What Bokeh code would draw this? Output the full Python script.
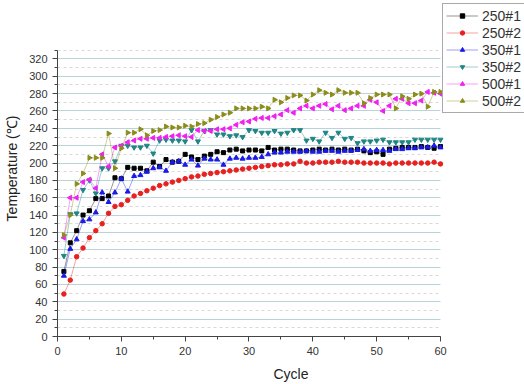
import math
from bokeh.plotting import figure
from bokeh.models import (Range1d, SingleIntervalTicker, Legend, LegendItem)
from bokeh.embed import file_html
from bokeh.resources import INLINE

cycles = list(range(1, 61))
series_names = ["250#1", "250#2", "350#1", "350#2", "500#1", "500#2"]

s250_1 = [75, 108, 122, 140, 145, 159, 159, 162, 183, 182, 195, 194, 194, 191, 201, 196, 204, 201, 202, 210,
          207, 204, 208, 210, 213, 212, 215, 216, 214, 215, 215, 214, 218, 215, 216, 216, 215, 214, 214, 215,
          216, 215, 216, 215, 216, 215, 216, 214, 212, 213, 210, 216, 217, 218, 218, 218, 219, 218, 217, 219]
s250_2 = [49, 65, 92, 102, 114, 122, 130, 142, 150, 152, 157, 162, 165, 168, 171, 174, 176, 178, 180, 182,
          184, 185, 187, 188, 189, 190, 191, 192, 193, 194, 195, 196, 197, 198, 198, 199, 199, 202, 200, 200,
          201, 201, 201, 202, 201, 201, 201, 200, 200, 200, 200, 199, 200, 200, 200, 200, 200, 200, 201, 199]
s350_1 = [70, 101, 112, 133, 135, 143, 166, 155, 166, 182, 167, 185, 186, 190, 194, 195, 191, 201, 202, 198,
          204, 197, 205, 204, 204, 198, 205, 206, 205, 206, 206, 207, 210, 212, 212, 213, 213, 213, 214, 213,
          213, 214, 214, 213, 214, 214, 215, 216, 214, 215, 215, 214, 216, 216, 217, 217, 218, 218, 220, 218]
s350_2 = [93, 141, 142, 169, 180, 165, 194, 194, 202, 220, 220, 218, 218, 220, 211, 226, 227, 226, 226, 225,
          238, 225, 237, 238, 233, 233, 231, 232, 230, 238, 237, 235, 235, 237, 234, 235, 238, 238, 226, 228,
          225, 235, 229, 235, 228, 229, 223, 225, 225, 226, 227, 224, 224, 224, 224, 227, 227, 227, 227, 227]
s500_1 = [114, 160, 160, 178, 181, 171, 210, 196, 218, 220, 224, 226, 228, 228, 229, 229, 230, 231, 232, 231,
          230, 238, 237, 237, 239, 239, 240, 244, 247, 248, 251, 252, 252, 254, 256, 261, 258, 263, 266, 263,
          266, 268, 262, 266, 261, 263, 266, 266, 273, 270, 260, 266, 274, 274, 269, 269, 272, 282, 281, 280]
s500_2 = [117, 140, 176, 188, 206, 206, 206, 234, 194, 217, 235, 235, 239, 232, 237, 238, 242, 241, 241, 243,
          242, 245, 246, 250, 253, 256, 258, 263, 263, 263, 263, 265, 263, 273, 270, 275, 278, 278, 272, 279,
          284, 281, 279, 284, 281, 281, 281, 269, 275, 279, 279, 279, 263, 277, 274, 279, 280, 265, 282, 282]

all_series = [s250_1, s250_2, s350_1, s350_2, s500_1, s500_2]
colors = ["#000000", "#e82020", "#1a1ae8", "#1f8585", "#f020f0", "#8c8c1a"]
markers = ["square", "circle", "triangle", "inverted_triangle", "triangle", "triangle"]
angles = [0, 0, 0, 0, math.pi / 2, -math.pi / 2]
sizes = [4, 4.5, 5, 5, 5, 5]

FONT = "Liberation Sans"
X_AXIS = (0, 60)
Y_AXIS = (0, 330)

# frame extends to the window's right and top edges so the legend (which in the
# reference sits outside the axes box) is not clipped; axes/grid use bounds.
p = figure(width=524, height=384, output_backend="svg", toolbar_location=None,
           x_range=Range1d(0, 73.16), y_range=Range1d(0, 387.4),
           min_border_left=57, min_border_right=0, min_border_top=0, min_border_bottom=46)
p.outline_line_color = None
p.background_fill_color = "white"
p.border_fill_color = "white"

p.xaxis.ticker = SingleIntervalTicker(interval=10, num_minor_ticks=2)
p.yaxis.ticker = SingleIntervalTicker(interval=20, num_minor_ticks=2)
p.xaxis.bounds = X_AXIS
p.yaxis.bounds = Y_AXIS
for ax in (p.xaxis, p.yaxis):
    ax.axis_line_color = "#444444"
    ax.major_tick_line_color = "#444444"
    ax.minor_tick_line_color = "#444444"
    ax.major_tick_in = 0
    ax.major_tick_out = 5
    ax.minor_tick_in = 0
    ax.minor_tick_out = 3
    ax.major_label_text_font = FONT
    ax.major_label_text_font_size = "11px"
    ax.major_label_text_color = "#333333"
    ax.axis_label_text_font = FONT
    ax.axis_label_text_font_size = "14px"
    ax.axis_label_text_font_style = "normal"
    ax.axis_label_text_color = "#222222"
p.xaxis.axis_label = "Cycle"
p.yaxis.axis_label = "Temperature (℃)"
p.xaxis.axis_label_standoff = 8
p.yaxis.axis_label_standoff = 6
p.yaxis.major_label_standoff = 5

p.xgrid.grid_line_color = None
p.ygrid.grid_line_color = "#b9d3da"
p.ygrid.grid_line_width = 1
p.ygrid.minor_grid_line_color = "#d8d8d8"
p.ygrid.minor_grid_line_dash = "3 3"
p.ygrid.bounds = Y_AXIS
p.ygrid.cross_bounds = X_AXIS

items = []
for name, ys, c, m, a, s in zip(series_names, all_series, colors, markers, angles, sizes):
    lr = p.line(cycles, ys, line_color=c, line_width=0.7, line_alpha=0.6)
    sr = p.scatter(cycles, ys, marker=m, angle=a, size=s, fill_color=c, line_color=c)
    items.append(LegendItem(label=name, renderers=[lr, sr]))

legend = Legend(items=items, location=(385, 223))
legend.label_text_font = FONT
legend.label_text_font_size = "14px"
legend.label_text_color = "#333333"
legend.glyph_width = 32
legend.glyph_height = 11
legend.label_height = 17
legend.label_standoff = 4
legend.spacing = 0
legend.padding = 3
legend.margin = 0
legend.border_line_color = "#555555"
legend.border_line_width = 1
legend.background_fill_alpha = 1
p.add_layout(legend, "center")

open("out.html", "w").write(file_html(p, INLINE))
